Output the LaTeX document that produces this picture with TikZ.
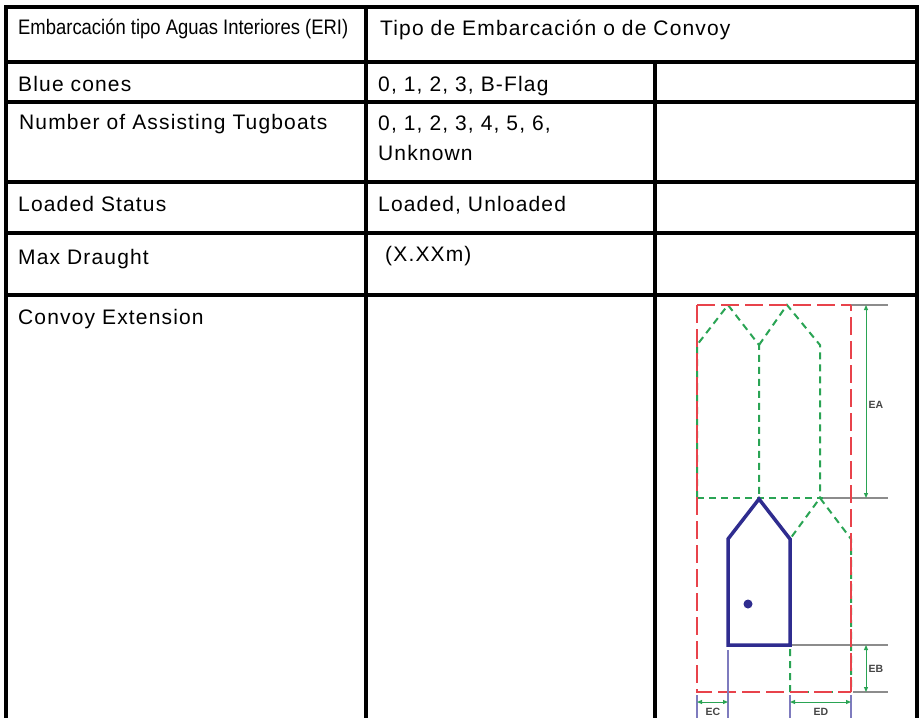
\documentclass[tikz,border=0pt]{standalone}
\usepackage{fontspec}
\usepackage{graphicx}
\setmainfont{Liberation Sans}
\newfontfamily\cellfont{Liberation Sans}[LetterSpace=5.5]
\usetikzlibrary{arrows.meta}
\definecolor{convred}{HTML}{E8434B}
\definecolor{convgreen}{HTML}{2AA454}
\definecolor{boatblue}{HTML}{2F2C8F}
\definecolor{refpurple}{HTML}{7E7BBE}
\definecolor{refgray}{HTML}{8C8C8C}
\definecolor{labgray}{HTML}{454545}
\tikzset{
  gridline/.style={line width=4pt, black},
  celltext/.style={anchor=base west, inner sep=0pt, font=\cellfont\fontsize{21}{25}\selectfont},
  reddash/.style={convred, line width=2pt, dash pattern=on 18pt off 6pt},
  greendash/.style={convgreen, line width=2pt, dash pattern=on 7pt off 5pt},
  boatline/.style={boatblue, line width=3.5pt, line join=miter},
  refline/.style={refgray, line width=1.2pt},
  extline/.style={refpurple, line width=1.5pt},
  dimarrow/.style={convgreen, line width=1pt, {Triangle[length=5pt,width=4pt]}-{Triangle[length=5pt,width=4pt]}},
  dimlabel/.style={inner sep=0pt, text=labgray, font=\fontsize{10.5}{11}\selectfont\bfseries}
}
\begin{document}
\begin{tikzpicture}[x=1pt,y=-1pt]
\useasboundingbox (0,0) rectangle (922,718);
\fill[white] (0,0) rectangle (922,718);

% ---------- table grid ----------
\coordinate (gTL) at (6,7);
\coordinate (gTR) at (917,7);
\coordinate (gBL) at (6,718);
\coordinate (gBR) at (917,718);
\draw[gridline, line join=miter] (gBL) -- (gTL) -- (gTR) -- (gBR);
\foreach \yy in {62,101.5,182,232.5,295} {
  \draw[gridline] (6,\yy) -- (917,\yy);
}
\draw[gridline] (366,7) -- (366,718);
\draw[gridline] (654.5,62) -- (654.5,718);

% ---------- texts ----------
\node[anchor=base west, inner sep=0pt, font=\fontsize{21}{25}\selectfont] (h1) at (18,34)
  {\resizebox{330pt}{\height}{Embarcación tipo Aguas Interiores (ERI)}};
\node[celltext] (h2) at (380,35) {Tipo de Embarcación o de Convoy};
\node[celltext] (r1a) at (18,91) {Blue cones};
\node[celltext] (r1b) at (378,91) {0, 1, 2, 3, B-Flag};
\node[celltext] (r2a) at (19,129.5) {Number of Assisting Tugboats};
\node[celltext] (r2b) at (378,130) {0, 1, 2, 3, 4, 5, 6,};
\node[celltext] (r2c) at (378,160) {Unknown};
\node[celltext] (r3a) at (18,211.5) {Loaded Status};
\node[celltext] (r3b) at (378,211) {Loaded, Unloaded};
\node[celltext] (r4a) at (18,264) {Max Draught};
\node[celltext] (r4b) at (385,261) {(X.XXm)};
\node[celltext] (r5a) at (18,324) {Convoy Extension};

% ---------- convoy diagram ----------
% reference lines (gray)
\draw[refline] (851,305) -- (888,305);
\draw[refline] (823,498) -- (888,498);
\draw[refline] (792,645) -- (888,645);
\draw[refline] (853,692) -- (888,692);

% green dashed convoy outlines
\draw[greendash] (697,498) -- (697,345) -- (728,305) -- (759,345) -- (759,498);
\draw[greendash] (759,345) -- (787,305) -- (820,345) -- (820,498);
\draw[greendash] (697,498) -- (823,498);
\draw[greendash] (790,692) -- (790,539) -- (820,498) -- (851,539) -- (851,692);
\draw[greendash] (790,692) -- (851,692);

% red dashed envelope
\draw[reddash] (697,305) -- (851,305);
\draw[reddash, line width=1.6pt] (697,305) -- (697,692) -- (851,692);
\draw[reddash, dash phase=12pt] (851,305) -- (851,692);

% own vessel (blue)
\draw[boatline] (728,645) -- (728,539) -- (759,499) -- (790,539) -- (790,645) -- cycle;
\fill[boatblue] (748,604) circle (4.5pt);

% extension lines (purple)
\draw[extline] (697,695) -- (697,718);
\draw[extline] (728,650) -- (728,718);
\draw[extline] (790,695) -- (790,718);
\draw[extline] (851,695) -- (851,718);

% dimension arrows
\coordinate (eaT) at (866,305);
\coordinate (eaB) at (866,498);
\coordinate (ebT) at (866,645);
\coordinate (ebB) at (866,692);
\coordinate (ecL) at (697,702);
\coordinate (ecR) at (728,702);
\coordinate (edL) at (790,702);
\coordinate (edR) at (851,702);
\draw[dimarrow] (eaT) -- (eaB);
\draw[dimarrow] (ebT) -- (ebB);
\draw[dimarrow] (ecL) -- (ecR);
\draw[dimarrow] (edL) -- (edR);

\node[dimlabel] (ea) at (876,405) {EA};
\node[dimlabel] (eb) at (876,669) {EB};
\node[dimlabel] (ec) at (713,712) {EC};
\node[dimlabel] (ed) at (821,712) {ED};
\end{tikzpicture}
\end{document}
